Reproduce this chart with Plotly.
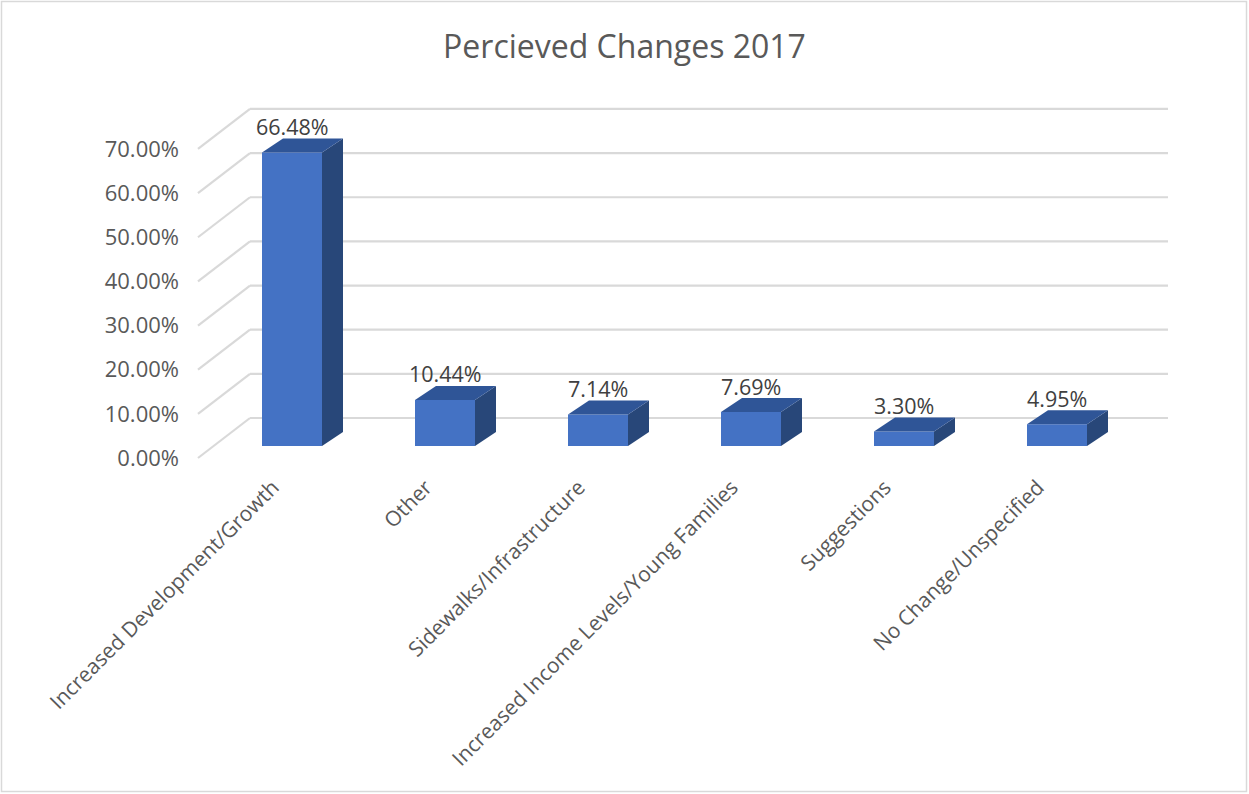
import plotly.graph_objects as go

categories = ["Increased Development/Growth", "Other", "Sidewalks/Infrastructure",
              "Increased Income Levels/Young Families", "Suggestions", "No Change/Unspecified"]
values = [66.48, 10.44, 7.14, 7.69, 3.30, 4.95]
grid_levels = [0, 10, 20, 30, 40, 50, 60, 70]
grid_labels = ["0.00%", "10.00%", "20.00%", "30.00%", "40.00%", "50.00%", "60.00%", "70.00%"]

# pixel geometry of the pseudo-3D scene
W_FIG, H_FIG = 1249, 794
L, R, T, B = 195, 1172, 95, 462
X0PX, STEP = 292, 153          # first bar centre, spacing
Y0PX, K = 446, 4.415           # bar base pixel, px per percent
xr = [(L - X0PX) / STEP, (R - X0PX) / STEP]
yr = [(Y0PX - B) / K, (Y0PX - T) / K]
DX, DY = 21 / STEP, 14 / K     # bar depth
BW = 60 / STEP                 # bar width
BACK_DY = 28 / K               # back wall offset
FRONT_DY = -12 / K
GX_FRONT = (198 - X0PX) / STEP
GX_BACK = (250 - X0PX) / STEP
GX_END = (1168 - X0PX) / STEP
LABEL_SHIFT = 19 / STEP        # category labels sit left of bar centres

FRONT = "#4472C4"
TOP = "#2F5597"
SIDE = "#284779"
GRID = "#D9D9D9"
TXT = "#595959"
FONT = "Open Sans"

fig = go.Figure()
xs = list(range(len(categories)))

# back wall gridlines (below traces)
for g in grid_levels:
    fig.add_shape(type="line", xref="x", yref="y", x0=GX_FRONT, y0=g + FRONT_DY,
                  x1=GX_BACK, y1=g + BACK_DY, line=dict(color=GRID, width=2.2), layer="below")
    fig.add_shape(type="line", xref="x", yref="y", x0=GX_BACK, y0=g + BACK_DY,
                  x1=GX_END, y1=g + BACK_DY, line=dict(color=GRID, width=2.2), layer="below")

# front faces
fig.add_trace(go.Bar(x=xs, y=values, width=BW, marker=dict(color=FRONT, line=dict(width=0)),
                     showlegend=False, hovertext=categories))

# side and top faces
for i, v in zip(xs, values):
    xl, xrr = i - BW / 2, i + BW / 2
    fig.add_trace(go.Scatter(x=[xrr, xrr + DX, xrr + DX, xrr, xrr], y=[0, DY, v + DY, v, 0],
                             fill="toself", fillcolor=SIDE, mode="lines", line=dict(width=0, color=SIDE),
                             hoverinfo="skip", showlegend=False))
    fig.add_trace(go.Scatter(x=[xl, xl + DX, xrr + DX, xrr, xl], y=[v, v + DY, v + DY, v, v],
                             fill="toself", fillcolor=TOP, mode="lines", line=dict(width=0, color=TOP),
                             hoverinfo="skip", showlegend=False))

# tick-label carriers for y2 / x2
fig.add_trace(go.Scatter(x=[None], y=[None], xaxis="x2", yaxis="y2", showlegend=False, hoverinfo="skip"))

for i, v in zip(xs, values):
    fig.add_annotation(x=i, y=v, yshift=26, text=f"{v:.2f}%", showarrow=False,
                       font=dict(family=FONT, size=21.5, color="#404040"), yanchor="middle")

pw, ph = R - L, B - T
fig.add_shape(type="rect", xref="paper", yref="paper",
              x0=(1.5 - L) / pw, x1=(W_FIG - 2.5 - L) / pw,
              y0=(B - (H_FIG - 2.5)) / ph, y1=(B - 1.5) / ph,
              line=dict(color="#D9D9D9", width=1.5), layer="below")

fig.update_layout(
    width=W_FIG, height=H_FIG,
    margin=dict(l=L, r=W_FIG - R, t=T, b=H_FIG - B, autoexpand=False),
    paper_bgcolor="white", plot_bgcolor="white",
    title=dict(text="Percieved Changes 2017", x=0.5, xref="container", y=1 - 47 / H_FIG, yanchor="middle",
               font=dict(family=FONT, size=32, color=TXT)),
    xaxis=dict(range=xr, showgrid=False, zeroline=False, showline=False, showticklabels=False),
    xaxis2=dict(range=[xr[0] + LABEL_SHIFT, xr[1] + LABEL_SHIFT], overlaying="x", side="bottom",
                anchor="y", tickmode="array", tickvals=xs, ticktext=categories, tickangle=-45,
                showgrid=False, zeroline=False, showline=False, ticks="",
                tickfont=dict(family=FONT, size=21, color=TXT), ticklabelstandoff=8),
    yaxis=dict(range=yr, showgrid=False, zeroline=False, showline=False, showticklabels=False),
    yaxis2=dict(range=[yr[0] - FRONT_DY, yr[1] - FRONT_DY], overlaying="y", side="left",
                tickmode="array", tickvals=grid_levels, ticktext=grid_labels,
                showgrid=False, zeroline=False, showline=False, ticks="",
                tickfont=dict(family=FONT, size=22, color=TXT), ticklabelstandoff=15),
    barmode="overlay", showlegend=False,
)

fig.write_html("out.html", config={"displayModeBar": False},
               post_script="document.body.style.margin='0';")
